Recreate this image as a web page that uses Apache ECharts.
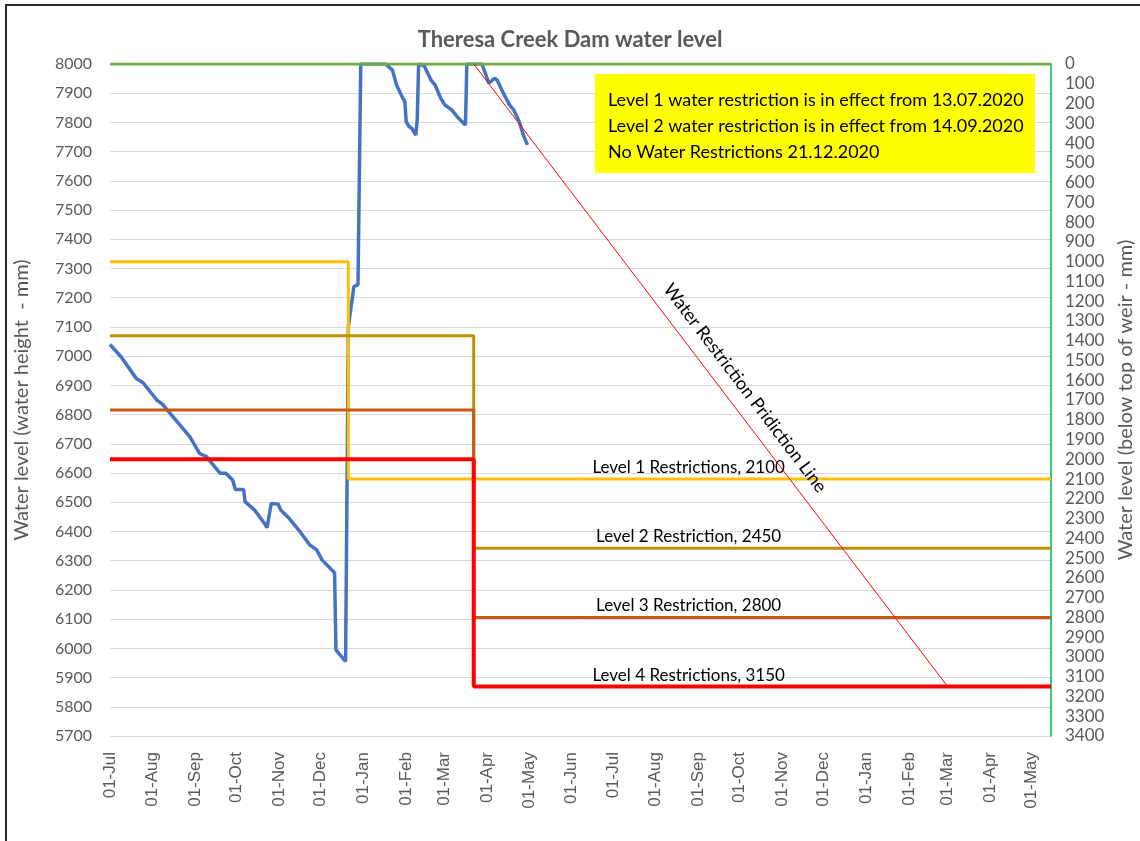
<!DOCTYPE html>
<html lang="en">
<head>
  <meta charset="UTF-8" />
  <title>Theresa Creek Dam water level</title>
  <script src="https://cdn.jsdelivr.net/npm/echarts@6/dist/echarts.min.js"></script>
  <style>
    body { margin: 0; background: #fff; }
    #chart { width: 1140px; height: 841px; }
  </style>
</head>
<body>
  <div id="chart"></div>

  <script>
    // x axis: month ticks
    const monthTicks = [
      '2020-07-01', '2020-08-01', '2020-09-01', '2020-10-01', '2020-11-01', '2020-12-01',
      '2021-01-01', '2021-02-01', '2021-03-01', '2021-04-01', '2021-05-01', '2021-06-01',
      '2021-07-01', '2021-08-01', '2021-09-01', '2021-10-01', '2021-11-01', '2021-12-01',
      '2022-01-01', '2022-02-01', '2022-03-01', '2022-04-01', '2022-05-01'
    ];
    const monthNames = ['Jan', 'Feb', 'Mar', 'Apr', 'May', 'Jun', 'Jul', 'Aug', 'Sep', 'Oct', 'Nov', 'Dec'];
    const axisStart = '2020-07-01';
    const axisEnd = '2022-05-15';

    // measured water height (mm)
    const levelDates = [
      '2020-07-01', '2020-07-09', '2020-07-20', '2020-07-25', '2020-08-04', '2020-08-08',
      '2020-08-28', '2020-09-04', '2020-09-09', '2020-09-16', '2020-09-19', '2020-09-23',
      '2020-09-28', '2020-09-30', '2020-10-06', '2020-10-07', '2020-10-14', '2020-10-21',
      '2020-10-23', '2020-10-26', '2020-10-31', '2020-11-02', '2020-11-08', '2020-11-15',
      '2020-11-23', '2020-11-28', '2020-12-02', '2020-12-11', '2020-12-12', '2020-12-15',
      '2020-12-19', '2020-12-21', '2020-12-25', '2020-12-28', '2020-12-30', '2021-01-17',
      '2021-01-22', '2021-01-25', '2021-01-29', '2021-01-31', '2021-02-01', '2021-02-03',
      '2021-02-05', '2021-02-08', '2021-02-09', '2021-02-10', '2021-02-14', '2021-02-19',
      '2021-02-22', '2021-02-26', '2021-03-01', '2021-03-06', '2021-03-11', '2021-03-16',
      '2021-03-17', '2021-03-28', '2021-04-02', '2021-04-06', '2021-04-08', '2021-04-12',
      '2021-04-17', '2021-04-20', '2021-04-24', '2021-04-27', '2021-04-30'
    ];
    const levelValues = [
      7040, 6998, 6924, 6909, 6850, 6836,
      6724, 6667, 6656, 6616, 6599, 6599,
      6576, 6544, 6544, 6502, 6473, 6428,
      6413, 6496, 6494, 6473, 6445, 6405,
      6354, 6337, 6302, 6259, 5995, 5978,
      5955, 7101, 7238, 7245, 8000, 8000,
      7979, 7928, 7888, 7871, 7803, 7786,
      7780, 7757, 7810, 8000, 7994, 7945,
      7928, 7883, 7860, 7843, 7814, 7791,
      8000, 8000, 7934, 7951, 7945, 7905,
      7860, 7843, 7803, 7757, 7723
    ];
    const weirTop = 8000;

    // restriction trigger levels (mm below top of weir)
    const restrictionNames = ['Level 1 Restrictions', 'Level 2 Restriction', 'Level 3 Restriction', 'Level 4 Restrictions'];
    const oldLevels = [1000, 1375, 1750, 2000];
    const newLevels = [2100, 2450, 2800, 3150];
    const switchDates = ['2020-12-21', '2021-03-22', '2021-03-22', '2021-03-22'];

    // prediction line (mm below top of weir)
    const predictionDates = ['2021-03-22', '2022-03-01'];
    const predictionValues = [0, 3150];

    const notes = [
      'Level 1 water restriction is in effect from 13.07.2020',
      'Level 2 water restriction is in effect from 14.09.2020',
      'No Water Restrictions 21.12.2020'
    ];

    const restrictionColors = ['#FFC000', '#BF9000', '#C55A11', '#FF0000'];
    const grey = '#595959';
    const font = 'Lato, "Open Sans", sans-serif';

    function toTime(s) {
      const [y, m, d] = s.split('-').map(Number);
      return new Date(y, m - 1, d).getTime();
    }

    function dayLabel(v) {
      const d = new Date(v);
      return String(d.getDate()).padStart(2, '0') + '-' + monthNames[d.getMonth()];
    }

    function restrictionSeries(i) {
      const sw = toTime(switchDates[i]);
      const labelAt = toTime('2021-08-25');
      return {
        name: restrictionNames[i],
        type: 'line',
        yAxisIndex: 1,
        symbol: 'circle',
        symbolSize: 0,
        showSymbol: true,
        lineStyle: { color: restrictionColors[i], width: i === 3 ? 4 : 3 },
        itemStyle: { color: restrictionColors[i] },
        z: 3 + i,
        data: [
          [toTime(axisStart), oldLevels[i]],
          [sw, oldLevels[i]],
          [sw, newLevels[i]],
          {
            value: [labelAt, newLevels[i]],
            label: {
              show: true, position: 'top', distance: 3,
              formatter: restrictionNames[i] + ', ' + newLevels[i],
              color: '#000', fontFamily: font, fontSize: 17
            }
          },
          [toTime(axisEnd), newLevels[i]]
        ]
      };
    }

    const chart = echarts.init(document.getElementById('chart'));
    const ticks = monthTicks.map(toTime);

    chart.setOption({
      animation: false,
      backgroundColor: '#fff',
      title: {
        text: 'Theresa Creek Dam water level',
        left: 'center', top: 24,
        textStyle: { color: grey, fontFamily: font, fontSize: 22, fontWeight: 'bold' }
      },
      // keep the plot box fixed; names/labels sit in the margins
      grid: { left: 110, right: 89, top: 64, bottom: 105, outerBoundsMode: 'none' },
      xAxis: {
        // dates as timestamps on a linear axis, labelled at each month start
        type: 'value',
        min: toTime(axisStart),
        max: toTime(axisEnd),
        splitLine: { show: false },
        axisLine: { show: false },
        axisTick: { show: false, customValues: ticks },
        axisLabel: {
          customValues: ticks,
          rotate: 90,
          margin: 16,
          color: grey,
          fontFamily: '"Liberation Sans", Arial, sans-serif',
          fontSize: 17,
          formatter: dayLabel
        }
      },
      yAxis: [
        {
          type: 'value',
          min: 5700, max: 8000, interval: 100,
          name: 'Water level (water height  - mm)',
          nameLocation: 'middle', nameGap: 78, nameRotate: 90,
          nameTextStyle: { color: grey, fontFamily: font, fontSize: 20 },
          axisLine: { show: false },
          axisTick: { show: false },
          axisLabel: { color: grey, fontFamily: font, fontSize: 16, margin: 18, formatter: v => String(v) },
          splitLine: { lineStyle: { color: '#d9d9d9', width: 1 } }
        },
        {
          type: 'value',
          inverse: true,
          min: 0, max: 3400, interval: 100,
          position: 'right',
          name: 'Water level (below top of weir - mm)',
          nameLocation: 'middle', nameGap: 64, nameRotate: 90,
          nameTextStyle: { color: grey, fontFamily: font, fontSize: 20 },
          axisLine: { show: true, lineStyle: { color: '#00B050', width: 1.5 } },
          axisTick: { show: false },
          axisLabel: { color: grey, fontFamily: font, fontSize: 17, margin: 14, formatter: v => String(v) },
          splitLine: { show: false }
        }
      ],
      series: [
        {
          name: 'Water level',
          type: 'line',
          symbol: 'none',
          lineStyle: { color: '#4472C4', width: 3.5 },
          z: 2,
          data: levelDates.map((d, i) => [toTime(d), levelValues[i]])
        },
        ...restrictionNames.map((_, i) => restrictionSeries(i)),
        {
          name: 'Top of weir',
          type: 'line',
          symbol: 'none',
          lineStyle: { color: '#70AD47', width: 3 },
          z: 8,
          data: [[toTime(axisStart), weirTop], [toTime(axisEnd), weirTop]]
        },
        {
          name: 'Water Restriction Pridiction Line',
          type: 'line',
          yAxisIndex: 1,
          symbol: 'none',
          lineStyle: { color: '#FF0000', width: 1 },
          z: 9,
          data: predictionDates.map((d, i) => [toTime(d), predictionValues[i]])
        }
      ],
      graphic: [
        {
          type: 'rect', silent: true, z: 100,
          shape: { x: 6, y: 5, width: 1300, height: 1000 },
          style: { fill: 'none', stroke: '#262626', lineWidth: 2 }
        },
        {
          type: 'rect', z: 50,
          shape: { x: 595, y: 74, width: 440, height: 99 },
          style: { fill: '#FFFF00' }
        },
        ...notes.map((t, i) => ({
          type: 'text', z: 51,
          x: 608, y: 100 + i * 26,
          style: { text: t, fill: '#000', font: '18px ' + font, verticalAlign: 'middle' }
        })),
        {
          type: 'text', z: 51,
          x: 745, y: 388,
          rotation: -52.8 * Math.PI / 180,
          style: {
            text: 'Water Restriction Pridiction Line',
            fill: '#000', font: '18px ' + font,
            align: 'center', verticalAlign: 'middle'
          }
        }
      ]
    });
  </script>
</body>
</html>
